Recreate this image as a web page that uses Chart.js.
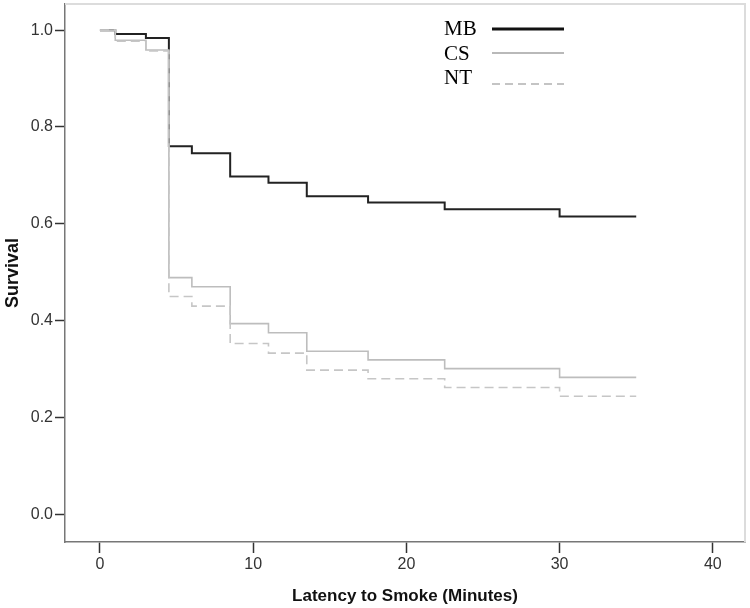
<!DOCTYPE html>
<html>
<head>
<meta charset="utf-8">
<script src="https://cdn.jsdelivr.net/npm/chart.js@4.4.1/dist/chart.umd.min.js"></script>
<style>
  html, body { margin: 0; padding: 0; background: #fff; }
  #wrap { width: 750px; height: 608px; }
</style>
</head>
<body>
<div id="wrap"><canvas id="km"></canvas></div>
<script>
// survival data (minutes)
const times = [0, 1, 3, 4.5, 6, 8.5, 11, 13.5, 17.5, 22.5, 30, 35];
const mbSurvival = [1, 0.992, 0.984, 0.76, 0.746, 0.698, 0.685, 0.657, 0.644, 0.63, 0.615, 0.615];
const csSurvival = [1, 0.979, 0.959, 0.489, 0.47, 0.394, 0.375, 0.337, 0.319, 0.301, 0.283, 0.283];
const ntSurvival = [1, 0.977, 0.957, 0.45, 0.43, 0.353, 0.333, 0.298, 0.28, 0.262, 0.244, 0.244];
const groups = ["MB", "CS", "NT"];
const xTicks = [0, 10, 20, 30, 40];
const yTicks = [0, 0.2, 0.4, 0.6, 0.8, 1.0];

const toPoints = function (vals) {
  return times.map(function (t, i) { return { x: t, y: vals[i] }; });
};

// legend styles
const legendStyle = [
  { color: "#111", width: 3, dash: [] },
  { color: "#b9b9b9", width: 2, dash: [] },
  { color: "#c4c4c4", width: 2, dash: [8, 5] },
];

const frameAndLegend = {
  id: "frameAndLegend",
  beforeDatasetsDraw: function (chart) {
    const c = chart.ctx;
    const a = chart.chartArea;
    c.save();
    c.strokeStyle = "#dcdcdc";
    c.lineWidth = 2;
    c.beginPath();
    c.moveTo(a.left, a.top);
    c.lineTo(a.right, a.top);
    c.lineTo(a.right, a.bottom);
    c.stroke();
    c.restore();
  },
  afterDraw: function (chart) {
    const c = chart.ctx;
    const rows = [
      { ty: 35, ly: 29 },
      { ty: 60, ly: 53 },
      { ty: 84, ly: 84 },
    ];
    c.save();
    c.font = "21px 'Liberation Serif', 'Times New Roman', serif";
    c.fillStyle = "#000";
    c.textAlign = "left";
    c.textBaseline = "alphabetic";
    groups.forEach(function (g, i) {
      c.fillText(g, 444, rows[i].ty);
      c.strokeStyle = legendStyle[i].color;
      c.lineWidth = legendStyle[i].width;
      c.setLineDash(legendStyle[i].dash);
      c.beginPath();
      c.moveTo(492, rows[i].ly);
      c.lineTo(564, rows[i].ly);
      c.stroke();
    });
    c.restore();
  },
};

const ctx = document.getElementById("km").getContext("2d");
const config = {
  type: "line",
  data: {
    datasets: [
      {
        label: groups[0],
        data: toPoints(mbSurvival),
        borderColor: "#222",
        borderWidth: 2,
        stepped: "before",
        pointRadius: 0,
        fill: false,
        order: 3,
      },
      {
        label: groups[1],
        data: toPoints(csSurvival),
        borderColor: "#bdbdbd",
        borderWidth: 1.6,
        stepped: "before",
        pointRadius: 0,
        fill: false,
        order: 2,
      },
      {
        label: groups[2],
        data: toPoints(ntSurvival),
        borderColor: "#c6c6c6",
        borderWidth: 1.6,
        borderDash: [9, 5],
        stepped: "before",
        pointRadius: 0,
        fill: false,
        order: 1,
      },
    ],
  },
  options: {
    responsive: true,
    maintainAspectRatio: false,
    animation: false,
    layout: { padding: { top: 4, right: 5, left: 0, bottom: 0 } },
    plugins: {
      legend: { display: false },
      tooltip: { enabled: false },
    },
    scales: {
      x: {
        type: "linear",
        min: -2.28,
        max: 42.1,
        afterBuildTicks: function (s) {
          s.ticks = xTicks.map(function (v) { return { value: v }; });
        },
        afterFit: function (s) {
          s.height = 66;
          s.paddingLeft = 0;
          s.paddingRight = 0;
        },
        grid: {
          drawOnChartArea: false,
          drawTicks: true,
          tickLength: 11,
          tickColor: "#333",
          tickWidth: 1.5,
        },
        border: { display: true, color: "#777", width: 1.5 },
        ticks: {
          color: "#333",
          padding: 2,
          maxRotation: 0,
          font: { family: "'Liberation Sans', Arial, sans-serif", size: 16 },
        },
        title: {
          display: true,
          text: "Latency to Smoke (Minutes)",
          color: "#111",
          padding: { top: 0, bottom: 1 },
          font: { family: "'Liberation Sans', Arial, sans-serif", size: 17, weight: "bold" },
        },
      },
      y: {
        min: -0.057,
        max: 1.054,
        afterBuildTicks: function (s) {
          s.ticks = yTicks.map(function (v) { return { value: v }; });
        },
        afterFit: function (s) {
          s.width = 65;
          s.paddingTop = 0;
          s.paddingBottom = 0;
        },
        grid: {
          drawOnChartArea: false,
          drawTicks: true,
          tickLength: 10,
          tickColor: "#333",
          tickWidth: 1.5,
        },
        border: { display: true, color: "#777", width: 1.5 },
        ticks: {
          color: "#333",
          padding: 2,
          callback: function (v) { return Number(v).toFixed(1); },
          font: { family: "'Liberation Sans', Arial, sans-serif", size: 16 },
        },
        title: {
          display: true,
          text: "Survival",
          color: "#111",
          padding: { top: 2, bottom: 0 },
          font: { family: "'Liberation Sans', Arial, sans-serif", size: 18, weight: "bold" },
        },
      },
    },
  },
  plugins: [frameAndLegend],
};

const chart_1 = new Chart(ctx, config);
</script>
</body>
</html>
